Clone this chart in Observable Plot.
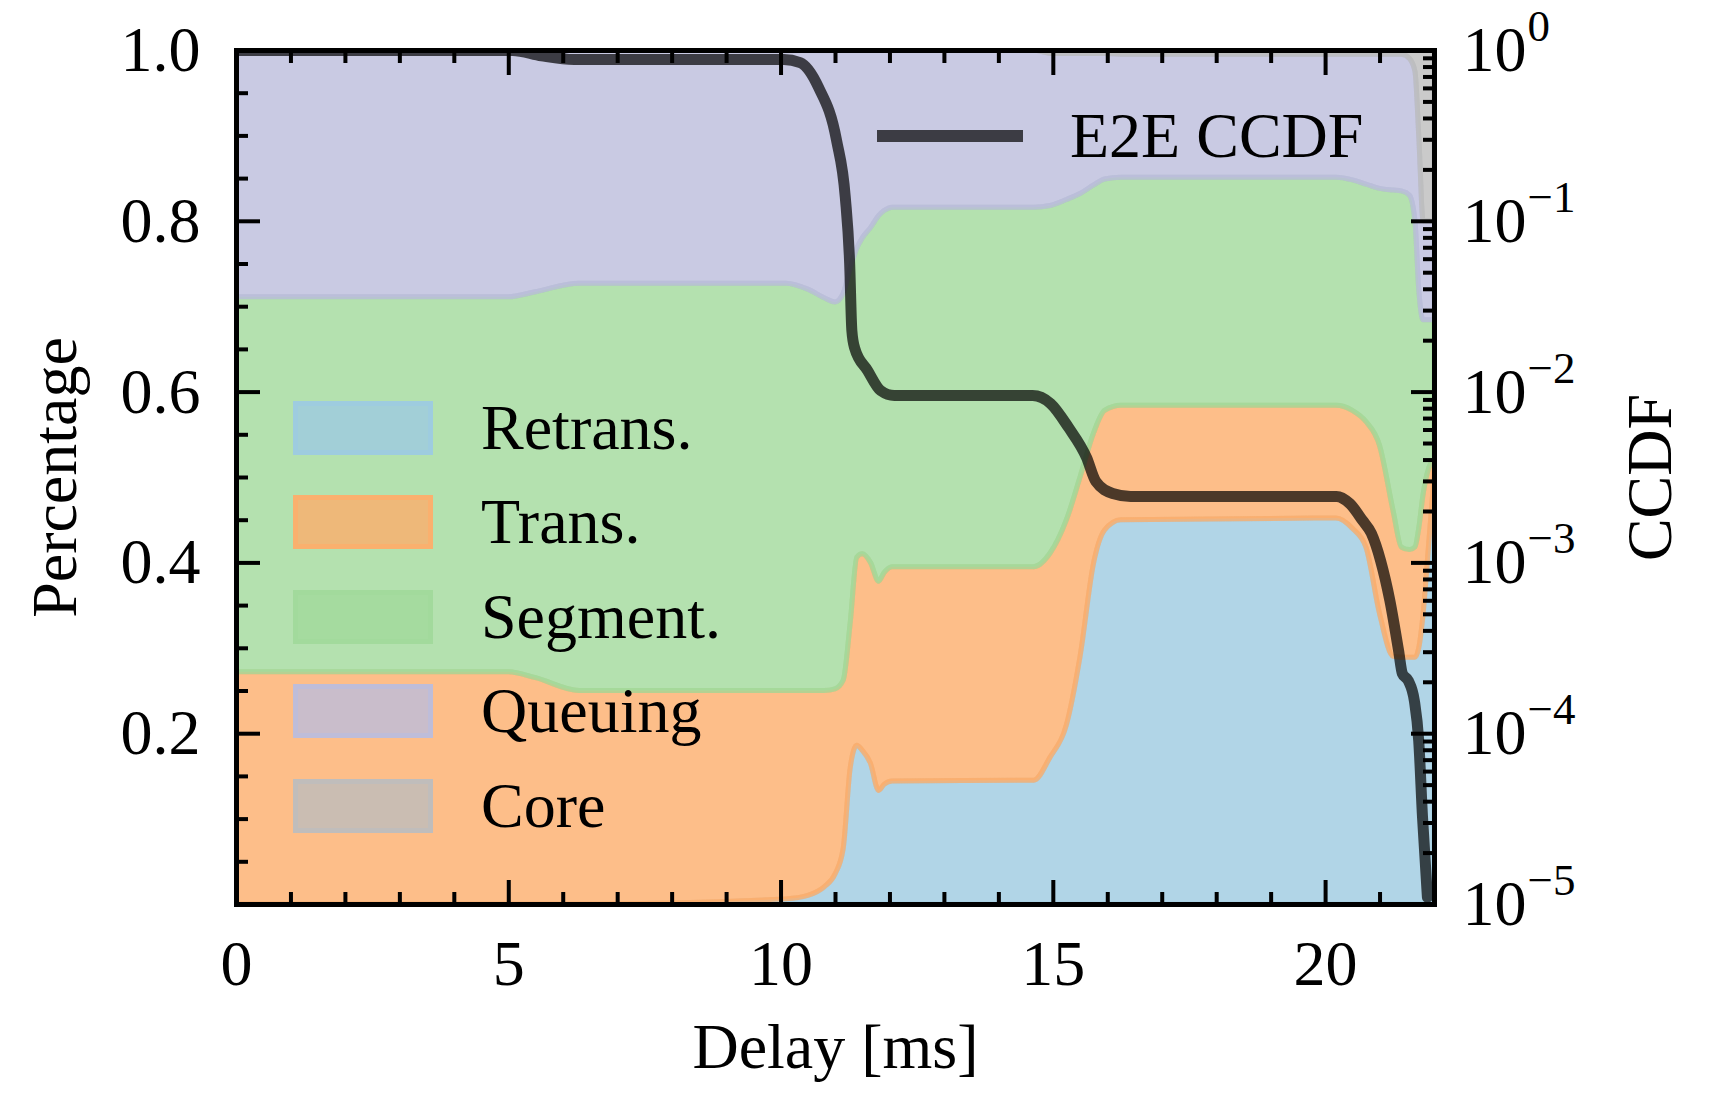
<!DOCTYPE html>
<html><head><meta charset="utf-8">
<script src="https://cdn.jsdelivr.net/npm/d3@7"></script>
<script src="https://cdn.jsdelivr.net/npm/@observablehq/plot@0.6"></script>
<style>
body{margin:0;background:#fff;}
#wrap{position:relative;width:1716px;height:1115px;font-family:"Liberation Serif",serif;overflow:hidden;}
#wrap .layer{position:absolute;left:0;top:0;}
.sw{position:absolute;box-sizing:border-box;width:140px;height:54px;border-width:5px;border-style:solid;}
.lt{position:absolute;font-size:64px;line-height:80px;color:#000;white-space:nowrap;}
</style></head><body><div id="wrap"></div>
<script>
// ---- data ----
const delays   = [0, 5.0, 5.5, 6.3, 10.1, 10.5, 10.8, 11.0, 11.15, 11.28, 11.4, 11.5, 11.65, 11.8, 11.9, 12.05, 14.65, 14.95, 15.25, 15.5, 15.75, 15.95, 16.25, 20.2, 20.5, 20.75, 21.0, 21.25, 21.4, 21.55, 21.65, 21.72, 21.8, 21.9, 22.0];
const retrans  = [0, 0, 0, 0, .006, .010, .020, .035, .065, .160, .186, .180, .165, .133, .140, .144, .145, .172, .210, .290, .400, .438, .450, .452, .440, .418, .340, .290, .289, .289, .289, .300, .340, .420, .500];
const trans    = [.272, .272, .265, .250, .244, .240, .230, .217, .197, .170, .220, .230, .235, .245, .248, .251, .250, .239, .240, .210, .152, .140, .134, .132, .138, .147, .197, .170, .129, .126, .129, .140, .140, .090, .020];
const segment  = [.439, .439, .452, .477, .477, .470, .460, .453, .453, .415, .362, .370, .392, .428, .424, .421, .421, .407, .375, .332, .290, .271, .267, .267, .270, .278, .301, .376, .417, .415, .382, .280, .204, .174, .164];
const queuing  = [.289, .289, .283, .273, .273, .280, .290, .295, .285, .255, .232, .220, .208, .194, .188, .184, .184, .178, .171, .164, .154, .147, .144, .144, .147, .152, .157, .159, .160, .160, .175, .180, .116, .116, .116];
const core     = [0, 0, 0, 0, 0, 0, 0, 0, 0, 0, 0, 0, 0, 0, 0, 0, 0, .004, .004, .004, .004, .004, .005, .005, .005, .005, .005, .005, .005, .010, .025, .100, .200, .200, .200];
const layerNames  = ["Retrans.", "Trans.", "Segment.", "Queuing", "Core"];
const layerColors = ["#9ecae1", "#fdae6b", "#a1d99b", "#bcbddc", "#bdbdbd"];

const ccdfDelays = [0, 5.07, 5.6, 6.2, 10.05, 10.35, 10.69, 11.02, 11.18, 11.26, 11.3, 11.35, 11.59, 11.83, 12.08, 14.62, 14.95, 15.28, 15.61, 15.78, 16.09, 16.42, 20.2, 20.44, 20.68, 20.84, 21.01, 21.18, 21.34, 21.41, 21.52, 21.63, 21.71, 21.78, 21.87];
const ccdfValues = [1, 1, 0.93, 0.885, 0.885, 0.85, 0.607, 0.297, 0.138, 0.0566, 0.023, 0.0182, 0.01337, 0.0102, 0.00955, 0.00955, 0.00857, 0.0062, 0.00414, 0.0030, 0.00255, 0.00245, 0.00245, 0.00223, 0.00177, 0.00149, 0.00103, 0.000602, 0.000307, 0.000225, 0.000204, 0.000156, 0.0000912, 0.0000324, 0.000011];

const xTicks   = [0, 5, 10, 15, 20];
const xMinor   = [1, 2, 3, 4, 6, 7, 8, 9, 11, 12, 13, 14, 16, 17, 18, 19, 21];
const yTicks   = [0.2, 0.4, 0.6, 0.8, 1.0];
const yMajor   = [0, 0.2, 0.4, 0.6, 0.8, 1.0];
const yMinor   = [0.05, 0.1, 0.15, 0.25, 0.3, 0.35, 0.45, 0.5, 0.55, 0.65, 0.7, 0.75, 0.85, 0.9, 0.95];
const logTicks = [1e-5, 1e-4, 1e-3, 1e-2, 1e-1, 1];
const logMinor = [];
for (const e of [-5, -4, -3, -2, -1]) for (const m of [2,3,4,5,6,7,8,9]) logMinor.push(m * Math.pow(10, e));

// ---- layout ----
const W = 1716, H = 1115;
const common = {width: W, height: H, marginTop: 50, marginRight: 282, marginBottom: 211, marginLeft: 236};
const st = {fontFamily: '"Liberation Serif", serif', fontSize: "64px", background: "transparent", overflow: "visible"};
const FS = 64;

const seriesVals = [retrans, trans, segment, queuing, core];
const stackRows = [];
layerNames.forEach((name, i) => delays.forEach((d, j) => stackRows.push({delay: d, layer: name, value: seriesVals[i][j]})));
const ccdfRows = ccdfDelays.map((d, i) => ({delay: d, ccdf: ccdfValues[i]}));

const plotA = Plot.plot({
  ...common, style: st,
  x: {domain: [0, 22], axis: null},
  y: {domain: [0, 1]},
  color: {domain: layerNames, range: layerColors},
  marks: [
    Plot.areaY(stackRows, {x: "delay", y: "value", z: "layer", fill: "layer", stroke: "layer",
      fillOpacity: 0.8, strokeOpacity: 0.8, strokeWidth: 5, curve: "monotone-x", clip: true}),
    Plot.axisY({anchor: "left", ticks: yTicks, tickFormat: d => d.toFixed(1), tickSize: 0, tickPadding: 36, fontSize: FS, label: null}),
    Plot.axisY({anchor: "left", ticks: yMajor, tickSize: -24, text: null, strokeWidth: 4, label: null}),
    Plot.axisY({anchor: "left", ticks: yMinor, tickSize: -12, text: null, strokeWidth: 4, label: null}),
    Plot.text(["Percentage"], {text: d => d, frameAnchor: "left", dx: -181, rotate: -90, fontSize: FS, textAnchor: "middle", lineAnchor: "middle"})
  ]
});

const sup = d => { const e = Math.round(Math.log10(d)); return e < 0 ? "\u2212" + (-e) : String(e); };

const plotB = Plot.plot({
  ...common, style: st,
  x: {domain: [0, 22]},
  y: {type: "log", domain: [1e-5, 1]},
  marks: [
    Plot.line(ccdfRows, {x: "delay", y: "ccdf", stroke: "#000", strokeOpacity: 0.7, strokeWidth: 11, curve: "monotone-x", clip: true}),
    Plot.axisX({anchor: "bottom", ticks: xTicks, tickFormat: d => String(d), tickSize: 0, tickPadding: 35, fontSize: FS, label: null}),
    Plot.axisX({anchor: "bottom", ticks: xTicks, tickSize: -24, text: null, strokeWidth: 4, label: null}),
    Plot.axisX({anchor: "bottom", ticks: xMinor, tickSize: -12, text: null, strokeWidth: 4, label: null}),
    Plot.axisX({anchor: "top", ticks: xTicks, tickSize: -24, text: null, strokeWidth: 4, label: null}),
    Plot.axisX({anchor: "top", ticks: xMinor, tickSize: -12, text: null, strokeWidth: 4, label: null}),
    Plot.axisY({anchor: "right", ticks: logTicks, tickFormat: () => "10", tickSize: 0, tickPadding: 28, fontSize: FS, label: null}),
    Plot.axisY({anchor: "right", ticks: logTicks, tickFormat: sup, tickSize: 0, tickPadding: 93, dy: -24, fontSize: 45, label: null}),
    Plot.axisY({anchor: "right", ticks: logTicks, tickSize: -24, text: null, strokeWidth: 4, label: null}),
    Plot.axisY({anchor: "right", ticks: logMinor, tickSize: -12, text: null, strokeWidth: 4, label: null}),
    Plot.frame({stroke: "#000", strokeWidth: 5}),
    Plot.text(["Delay [ms]"], {text: d => d, frameAnchor: "bottom", dy: 143, fontSize: FS, textAnchor: "middle", lineAnchor: "middle"}),
    Plot.text(["CCDF"], {text: d => d, frameAnchor: "right", dx: 216, rotate: -90, fontSize: FS, textAnchor: "middle", lineAnchor: "middle"})
  ]
});

const wrap = document.getElementById("wrap");
plotA.classList.add("layer");
plotB.classList.add("layer");
wrap.appendChild(plotA);
wrap.appendChild(plotB);

// ---- legends ----
const rgba = (hex, a) => { const c = d3.rgb(hex); return `rgba(${c.r},${c.g},${c.b},${a})`; };
const legendCenters = [428, 522, 617, 711, 806];
layerNames.forEach((name, i) => {
  const sw = document.createElement("div");
  sw.className = "sw";
  sw.style.left = "293px";
  sw.style.top = (legendCenters[i] - 27) + "px";
  sw.style.background = rgba(layerColors[i], 0.8);
  sw.style.borderColor = rgba(layerColors[i], 0.8);
  wrap.appendChild(sw);
  const t = document.createElement("div");
  t.className = "lt";
  t.style.left = "481px";
  t.style.top = (legendCenters[i] - 40.5) + "px";
  t.textContent = name;
  wrap.appendChild(t);
});
const ll = document.createElement("div");
ll.style.cssText = "position:absolute;left:877px;top:130px;width:146px;height:12px;background:rgba(0,0,0,0.7);";
wrap.appendChild(ll);
const lt = document.createElement("div");
lt.className = "lt";
lt.style.left = "1070px";
lt.style.top = (136 - 40.5) + "px";
lt.textContent = "E2E CCDF";
wrap.appendChild(lt);
</script>
</body></html>
